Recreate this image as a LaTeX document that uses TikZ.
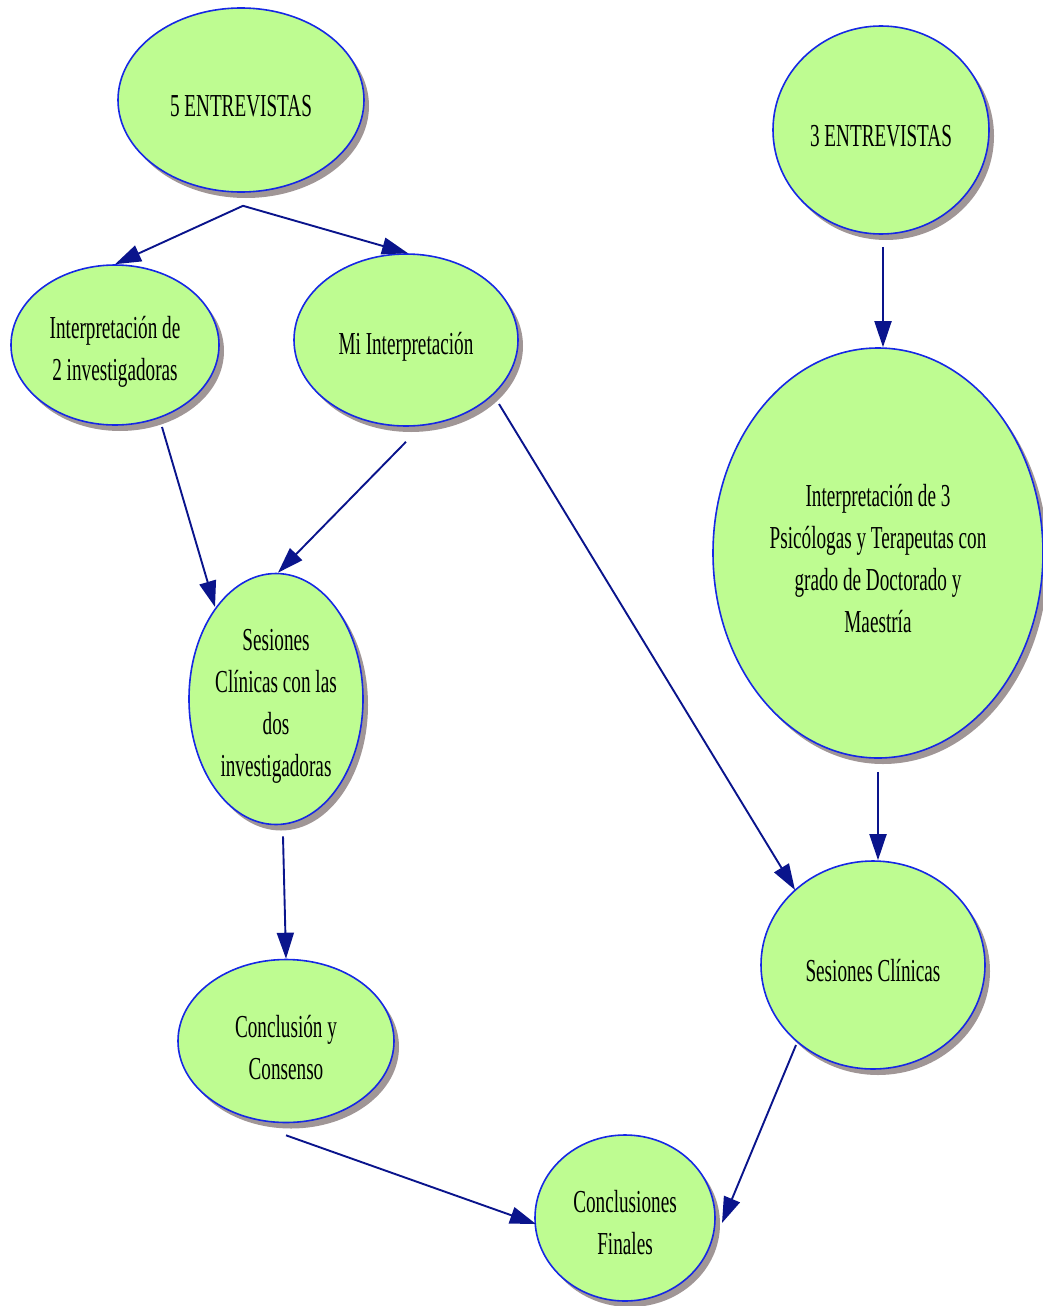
\documentclass[tikz,border=0pt]{standalone}
\usepackage{fontspec}
\setmainfont[FakeStretch=0.6]{Liberation Serif}
\usetikzlibrary{shapes.geometric,arrows.meta,shadows,calc}
\definecolor{bubblefill}{RGB}{190,252,145}
\definecolor{bubbleline}{RGB}{22,40,228}
\definecolor{bubbleshadow}{RGB}{160,150,150}
\definecolor{linkcol}{RGB}{10,20,140}
\begin{document}
\begin{tikzpicture}[x=1pt,y=-1pt,
  bubble/.style={ellipse, draw=bubbleline, line width=1.6pt, fill=bubblefill,
    inner sep=0pt,
    general shadow={fill=bubbleshadow, shadow xshift=5pt, shadow yshift=-6pt}},
  caption/.style={align=center, inner sep=0pt, font={\fontsize{32}{42}\selectfont}},
  link/.style={draw=linkcol, line width=1.9pt,
    -{Triangle[length=26pt,width=17pt]}}]
\useasboundingbox (0,0) rectangle (1042,1306);

% interview groups
\node[bubble, minimum width=246, minimum height=184] (e5) at (241,100) {};
\node[bubble, minimum width=216, minimum height=208] (e3) at (881,130) {};

% interpretations
\node[bubble, minimum width=208, minimum height=160] (i2) at (115,345) {};
\node[bubble, minimum width=224, minimum height=172] (mi) at (406,340) {};
\node[bubble, minimum width=330, minimum height=410] (p3) at (878,553) {};

% clinical sessions
\node[bubble, minimum width=174, minimum height=251] (sd) at (276,699) {};
\node[bubble, minimum width=224, minimum height=208] (sc) at (873,965) {};

% conclusions
\node[bubble, minimum width=216, minimum height=163] (cc) at (286,1041) {};
\node[bubble, minimum width=180, minimum height=166] (cf) at (625,1218) {};

% captions, set a little below each centre
\node[caption] (e5t) at ($(e5.center)+(0,6)$) {5 ENTREVISTAS};
\node[caption] (e3t) at ($(e3.center)+(0,6)$) {3 ENTREVISTAS};
\node[caption] (i2t) at ($(i2.center)+(0,7)$) {Interpretación de\\2 investigadoras};
\node[caption] (mit) at ($(mi.center)+(0,7)$) {Mi Interpretación};
\node[caption] (p3t) at ($(p3.center)+(0,6)$) {Interpretación de 3\\Psicólogas y Terapeutas con\\grado de Doctorado y\\Maestría};
\node[caption] (sdt) at ($(sd.center)+(0,7)$) {Sesiones\\Clínicas con las\\dos\\investigadoras};
\node[caption] (sct) at ($(sc.center)+(0,6)$) {Sesiones Clínicas};
\node[caption] (cct) at ($(cc.center)+(0,7)$) {Conclusión y\\Consenso};
\node[caption] (cft) at ($(cf.center)+(0,5)$) {Conclusiones\\Finales};

% connectors
\draw[link] ($(e5.south)+(2,13)$) -- (i2.north);
\draw[link] ($(e5.south)+(2,13)$) -- ($(mi.north)+(2,0)$);
\draw[link] ($(e3.south)+(2,12)$) -- ($(p3.north)+(5,0)$);
\draw[link] ($(i2.center)+(47,82)$) -- ($(sd.center)+(-61,-92)$);
\draw[link] ($(mi.south)+(0,15)$) -- ($(sd.north)+(2,0)$);
\draw[link] ($(mi.center)+(93,64)$) -- ($(sc.center)+(-78,-75)$);
\draw[link] ($(p3.south)+(0,13)$) -- ($(sc.north)+(5,0)$);
\draw[link] ($(sd.south)+(7,11)$) -- (cc.north);
\draw[link] ($(cc.south)+(0,12)$) -- ($(cf.center)+(-89,6)$);
\draw[link] ($(sc.center)+(-77,80)$) -- ($(cf.center)+(97,5)$);
\end{tikzpicture}
\end{document}
